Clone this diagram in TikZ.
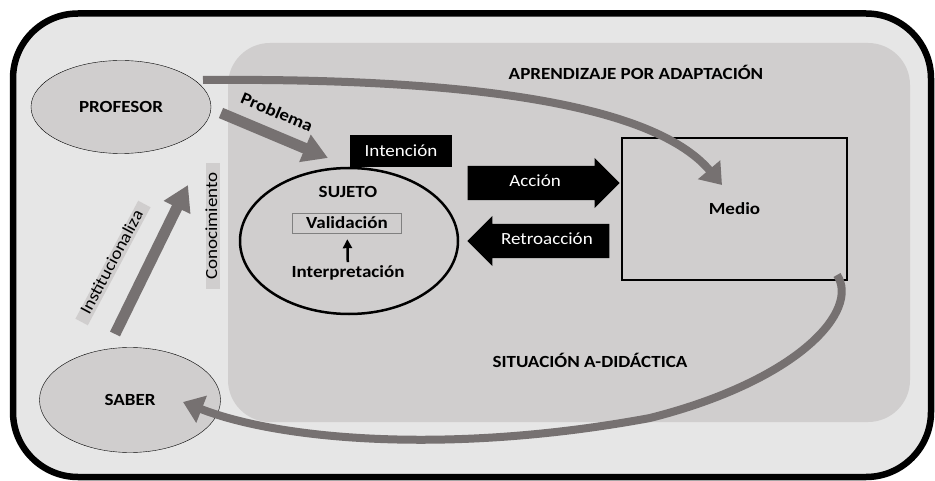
\documentclass[tikz,border=0pt]{standalone}
\usepackage{fontspec}
\setmainfont{Carlito}[FakeStretch=1.12]
\usetikzlibrary{shapes.geometric, shapes.arrows, arrows.meta, positioning}
\definecolor{outerbg}{RGB}{230,230,230}
\definecolor{innerbg}{RGB}{208,206,206}
\definecolor{arrowgray}{RGB}{118,113,113}
\newcommand{\labelsize}{\fontsize{17}{20}\selectfont}
\tikzstyle{actor} = [ellipse, draw=black, thin, fill=innerbg, font=\labelsize\bfseries]
\tikzstyle{sujetobox} = [ellipse, draw=black, line width=2.5pt, minimum width=218pt, minimum height=146pt]
\tikzstyle{mediobox} = [rectangle, draw=black, line width=2.5pt, fill=innerbg, minimum width=225pt, minimum height=142pt, font=\labelsize\bfseries]
\tikzstyle{blackbox} = [rectangle, fill=black, text=white, minimum width=102pt, minimum height=32pt]
\tikzstyle{blockarrow} = [single arrow, fill=black, text=white, minimum width=50pt, single arrow head extend=8pt, inner ysep=9pt, text height=12pt, text depth=4pt]
\tikzstyle{grayarrow} = [draw=arrowgray, line width=11pt, -{Triangle[width=28pt,length=25pt]}]
\tikzstyle{curvearrow} = [draw=arrowgray, line width=8pt, -{Triangle[width=28pt,length=20pt]}]
\tikzstyle{tag} = [fill=innerbg, inner xsep=9pt, inner ysep=0pt, text height=11pt, text depth=3pt]
\tikzstyle{title} = [font=\labelsize\bfseries]

\begin{document}
\begin{tikzpicture}[x=1pt, y=-1pt, font=\labelsize]

    \useasboundingbox (0,0) rectangle (935,481);

    % frame and adaptation area
    \draw[line width=6.5pt, fill=outerbg, rounded corners=65pt] (13,13.5) rectangle (931,477);
    \fill[innerbg, rounded corners=42pt] (228,43) rectangle (910,422);

    \node (aprendizaje) [title] at (636,72) {APRENDIZAJE POR ADAPTACIÓN};
    \node (situacion) [title] at (590,360) {SITUACIÓN A-DIDÁCTICA};

    \node (profesor) [actor, minimum width=180pt, minimum height=93pt] at (121,107) {PROFESOR};
    \node (saber) [actor, minimum width=181pt, minimum height=105pt] at (130,400) {SABER};

    \node (sujeto) [sujetobox] at (349,241) {};
    \node (sujlabel) [title] at (348,192) {SUJETO};
    \node (valid) [draw=gray, fill=innerbg, font=\labelsize\bfseries, minimum width=109pt, minimum height=20pt, inner sep=0pt] at (347,223) {Validación};
    \node (interp) [title] at (348,273) {Interpretación};

    \node (intencion) [blackbox] at (401,151) {Intención};
    \node (medio) [mediobox] at (734.5,209) {Medio};

    \node (accion) [blockarrow, minimum height=152pt, anchor=tip] at (620,183) {Acción};
    \node (retro) [blockarrow, shape border rotate=180, minimum height=142pt, anchor=tip] at (467,241) {Retroacción};

    \node (conoc) [tag, rotate=90] at (213,226) {Conocimiento};
    \node (instit) [tag, rotate=62] at (113,263) {Institucionaliza};
    \node (problema) [title, rotate=-23] at (277,112) {Problema};

    \coordinate (probtail) at (221,113);
    \coordinate (probtip) at (328,158);
    \coordinate (insttail) at (115,334);
    \coordinate (insttip) at (188,185);
    \coordinate (proftail) at (203,80);
    \coordinate (mediotip) at (722,185);
    \coordinate (mediotail) at (837,275);
    \coordinate (sabertip) at (183,402);

    \draw[-{Triangle[width=9pt,length=9pt]}, line width=2.5pt, shorten >=6pt] (interp) -- (valid);
    \draw[grayarrow] (probtail) -- (probtip);
    \draw[grayarrow] (insttail) -- (insttip);
    \draw[curvearrow] (proftail) .. controls (450,78) and (650,100) .. (mediotip);
    \draw[curvearrow] (mediotail) .. controls (860,310) and (800,380) .. (650,418)
        .. controls (450,455) and (280,440) .. (sabertip);

\end{tikzpicture}
\end{document}
